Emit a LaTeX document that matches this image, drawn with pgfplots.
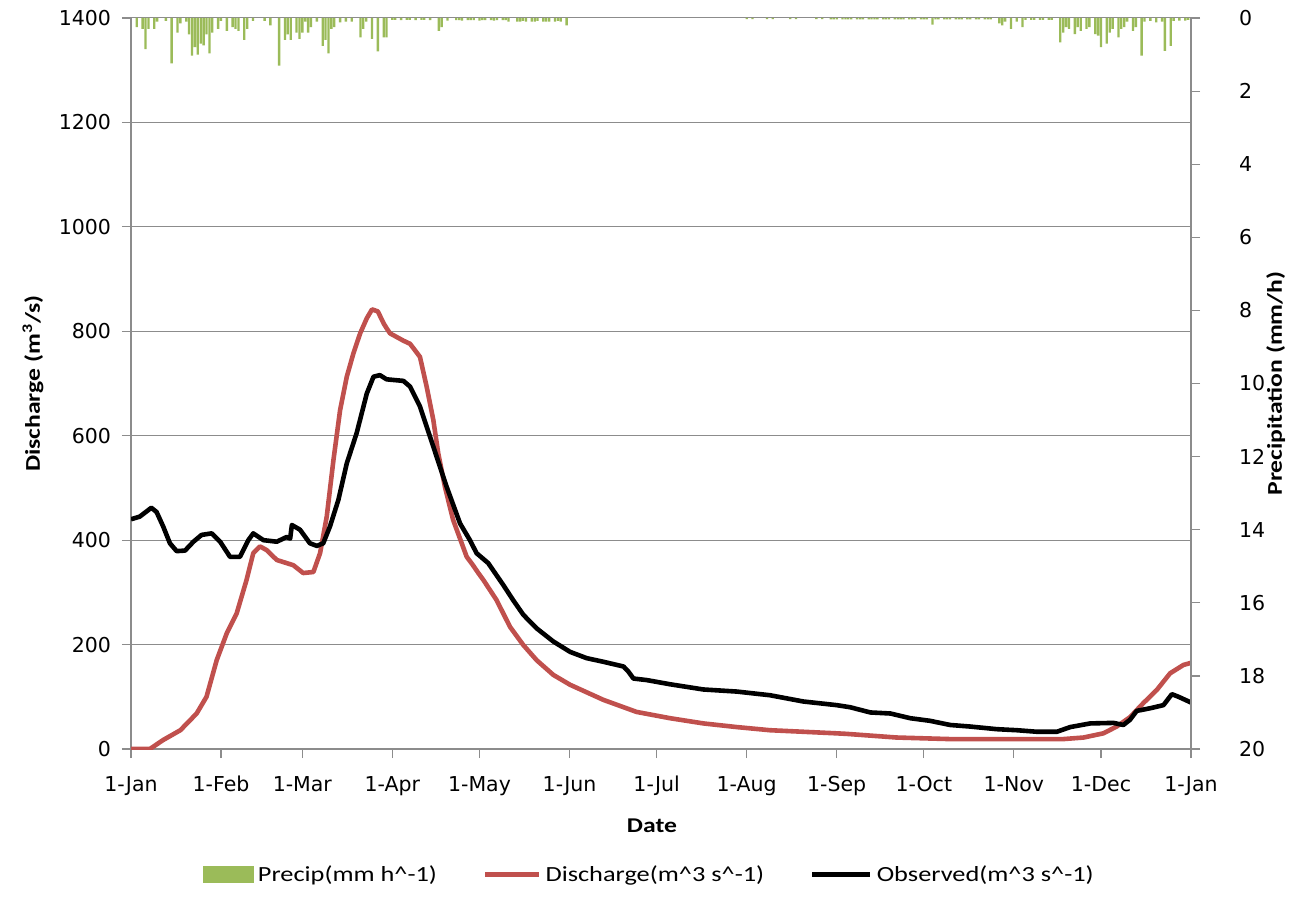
\documentclass[border=0pt]{standalone}
\usepackage{pgfplots}
\pgfplotsset{compat=1.18}
\usepackage{fontspec}
\setmainfont{Carlito}[FakeStretch=1.22]
\newfontfamily\tickfont{DejaVu Sans}
\definecolor{gridgray}{HTML}{8C8C8C}
\definecolor{dischred}{HTML}{C0504D}
\definecolor{precipgreen}{HTML}{9BBB59}

\pgfplotstableread{
day q
0 0
6.5 0
11 17
17 36
22.6 68
26 100
29.5 170
33 222
36.4 260
39.8 324
42.1 375
44.4 388
46.7 381
50.2 362
55.9 352
59.3 337
62.8 339
65.1 375
67.4 445
69.7 553
72 649
74.3 713
76.6 758
78.9 796
81.2 825
83 842
85 838
87 815
88 806
89.2 796
93.8 782
96.1 776
99.5 751
101.8 694
104.1 630
105.8 566
108.1 502
110.9 439
115.6 368
117.5 354
119.6 337
121.3 324
125.9 285
130.5 234
135.1 199
139.7 170
145.4 142
151.2 123
162.7 94
174.1 71
185.6 59
197.1 49
208.6 42
220 36
231.5 33
243 30
246.4 29
263.6 22
282 19
321 19
328 22
334.8 30
339.4 43
344 61
348.6 88
353.2 113
357.8 145
362.4 161
365 165
}\discharge

\pgfplotstableread{
day q
0 440
3 445
7 462
8.8 454
11.1 426
13.4 394
15.7 379
18.6 380
21.5 397
24.3 410
27.8 413
30.7 397
34.1 368
37.5 368
40.4 400
42.1 413
45.6 400
50.2 397
53.6 406
54.8 403
55.4 429
58.2 420
61.6 394
64 389
66.2 394
68.5 426
71.4 477
74.3 547
77.7 605
81.2 681
83.5 713
85.7 716
88 708
93.8 705
96.1 694
99.5 656
104.1 579
108.7 502
113.3 432
116.7 400
119 375
123 356
128.2 314
131.6 285
135.1 257
139.7 231
145.4 206
151.2 186
156.9 174
162.7 167
169.6 158
171.3 148
173 135
177.6 132
185.6 124
197.1 114
208.6 110
220 103
231.5 91
243 84
247.6 80
254.6 70
261.5 68
268.3 59
275.1 54
282.1 46
289 43
298.1 38
305 36
312 33
318.8 33
323.4 42
330.3 49
338.3 50
341.7 46
344 56
346.3 73
350.9 78
355.5 84
358.4 105
360.7 100
365 89
}\observed

\pgfplotstableread{
day p
2 0.25
4 0.3
5 0.85
6 0.3
8 0.3
9 0.1
12 0.08
14 1.24
16 0.4
17 0.15
19 0.1
20 0.45
21 1.03
22 0.8
23 1.0
24 0.7
25 0.75
26 0.45
27 0.97
28 0.4
30 0.3
31 0.08
33 0.35
35 0.25
36 0.3
37 0.35
39 0.6
40 0.3
42 0.08
46 0.08
48 0.2
51 1.3
53 0.6
54 0.45
55 0.6
57 0.4
58 0.57
59 0.4
60 0.1
61 0.4
62 0.25
64 0.1
66 0.76
67 0.6
68 0.97
69 0.3
70 0.25
72 0.12
74 0.1
76 0.1
79 0.53
80 0.3
81 0.1
83 0.57
85 0.91
87 0.53
88 0.53
90 0.05
91 0.05
93 0.06
95 0.05
96 0.05
98 0.06
100 0.05
101 0.05
103 0.06
106 0.35
107 0.25
109 0.07
112 0.06
113 0.06
114 0.07
116 0.06
117 0.06
118 0.06
120 0.07
121 0.06
122 0.06
124 0.06
125 0.07
126 0.06
128 0.06
129 0.06
130 0.1
133 0.1
134 0.1
135 0.08
136 0.1
138 0.1
139 0.1
140 0.08
142 0.1
143 0.1
144 0.1
146 0.1
147 0.08
148 0.1
150 0.2
212 0.03
214 0.03
219 0.03
221 0.03
227 0.03
229 0.03
236 0.03
238 0.03
241 0.04
242 0.04
243 0.04
245 0.04
246 0.04
247 0.04
248 0.04
250 0.04
251 0.04
252 0.04
254 0.04
255 0.04
256 0.04
257 0.04
259 0.04
260 0.04
261 0.04
263 0.04
264 0.04
265 0.04
266 0.04
268 0.04
269 0.04
270 0.04
272 0.04
273 0.04
274 0.04
276 0.18
277 0.04
278 0.04
280 0.04
281 0.04
282 0.04
284 0.04
285 0.04
286 0.04
288 0.04
289 0.04
291 0.04
292 0.04
294 0.04
295 0.04
296 0.04
299 0.15
300 0.2
301 0.1
303 0.3
305 0.1
307 0.25
308 0.05
310 0.05
311 0.05
313 0.05
314 0.05
316 0.05
317 0.05
320 0.67
321 0.4
322 0.25
323 0.3
325 0.44
326 0.25
327 0.35
329 0.3
330 0.25
332 0.44
333 0.48
334 0.8
336 0.7
337 0.4
338 0.3
340 0.53
341 0.3
342 0.25
343 0.1
345 0.35
346 0.25
348 1.03
349 0.1
351 0.08
353 0.12
355 0.1
356 0.9
358 0.76
359 0.08
361 0.07
363 0.07
364 0.05
}\precip

\begin{document}
\begin{tikzpicture}
\pgfplotsset{
  common/.style={
    width=530pt, height=365.5pt, scale only axis,
    xmin=0, xmax=365,
    tick align=outside,
    major tick length=4.5pt,
    tick style={draw=gridgray, line width=0.6pt},
    axis line style={-, draw=gridgray, line width=0.8pt},
    /pgf/number format/assume math mode=true,
    /pgf/number format/1000 sep={},
    ticklabel style={font=\tickfont\fontsize{10.25}{12}\selectfont},
    label style={font=\bfseries\fontsize{10.5}{12}\selectfont},
  }
}
\begin{axis}[common,
  axis x line*=bottom, axis y line*=left,
  ymin=0, ymax=1400, ytick={0,200,...,1400},
  ymajorgrids, grid style={draw=gridgray, line width=0.5pt},
  xtick={0,31,59,90,120,151,181,212,243,273,304,334,365},
  xticklabels={1-Jan,1-Feb,1-Mar,1-Apr,1-May,1-Jun,1-Jul,1-Aug,1-Sep,1-Oct,1-Nov,1-Dec,1-Jan},
  xticklabel style={yshift=-5.5pt},
  yticklabel style={xshift=-2pt},
  xlabel={Date},
  xlabel style={at={(axis description cs:0.4915,-0.105)}, anchor=center},
  ylabel={Discharge (m\textsuperscript{3}/s)},
  ylabel style={at={(axis description cs:-0.0925,0.5)}, anchor=center},
  legend columns=3,
  legend style={at={(axis description cs:0.49,-0.172)}, anchor=center, draw=none,
    font=\fontsize{10.8}{13}\selectfont,
    /tikz/every even column/.append style={column sep=21pt}},
  legend cell align=left,
]
\addlegendimage{legend image code/.code={\fill[precipgreen] (0pt,-4pt) rectangle (25pt,4pt);}}
\addlegendentry{Precip(mm h\textasciicircum-1)}
\addplot[color=dischred, line width=2.3pt, line join=round,
  legend image code/.code={\draw[dischred, line width=2.3pt] (0pt,0pt) -- (27pt,0pt);}]
  table[x=day, y=q]{\discharge};
\addlegendentry{Discharge(m\textasciicircum3 s\textasciicircum-1)}
\addplot[color=black, line width=2.3pt, line join=round,
  legend image code/.code={\draw[black, line width=2.3pt] (0pt,0pt) -- (29pt,0pt);}]
  table[x=day, y=q]{\observed};
\addlegendentry{Observed(m\textasciicircum3 s\textasciicircum-1)}
\end{axis}
\begin{axis}[common,
  axis x line=none, axis y line*=right,
  ymin=0, ymax=20, y dir=reverse, ytick={0,2,...,20},
  yticklabel style={xshift=16pt, anchor=west},
  ylabel={Precipitation (mm/h)},
  ylabel style={at={(axis description cs:1.08,0.5)}, anchor=center},
]
\addplot[ybar, bar width=0.8, fill=precipgreen, draw=none]
  table[x=day, y=p]{\precip};
\end{axis}
\pgfresetboundingbox
\useasboundingbox (-65.5pt,-80.5pt) rectangle (581pt,374.5pt);
\end{tikzpicture}
\end{document}
